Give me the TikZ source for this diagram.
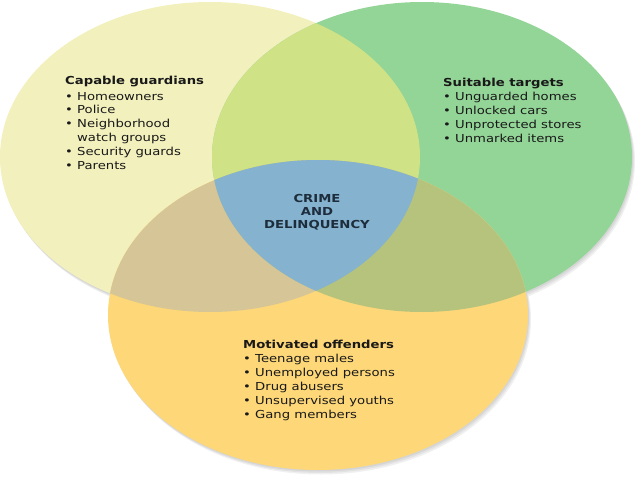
\documentclass[tikz,border=0pt]{standalone}
\usepackage{fontspec}
\setmainfont[FakeStretch=1.2]{DejaVu Sans}
\usepackage{tikz}

\definecolor{guardfill}{RGB}{242,240,189}
\definecolor{targetfill}{RGB}{147,212,151}
\definecolor{offendfill}{RGB}{253,215,120}
\definecolor{gtfill}{RGB}{207,226,133}
\definecolor{gofill}{RGB}{214,197,150}
\definecolor{tofill}{RGB}{182,195,125}
\definecolor{crimefill}{RGB}{132,178,207}
\definecolor{crimetext}{RGB}{30,45,60}

\def\ringG{(210,157) ellipse [x radius=210pt, y radius=155pt]}
\def\ringT{(422,157) ellipse [x radius=210pt, y radius=155pt]}
\def\ringO{(318,315) ellipse [x radius=210pt, y radius=155pt]}

\begin{document}
\begin{tikzpicture}[x=1pt,y=-1pt,
  list/.style={anchor=base west,align=left,inner sep=0pt,text=black!90,
    font=\fontsize{11}{13.8}\selectfont}]
  \useasboundingbox (0,0) rectangle (638,479);
  \foreach \d in {1,2,3}
    \fill[black,opacity=0.06,shift={(\d,1.5*\d)}] \ringG \ringT \ringO;
  \fill[guardfill] \ringG;
  \fill[targetfill] \ringT;
  \fill[offendfill] \ringO;
  \begin{scope}
    \clip \ringG;
    \fill[gtfill] \ringT;
    \fill[gofill] \ringO;
  \end{scope}
  \begin{scope}
    \clip \ringT;
    \fill[tofill] \ringO;
    \clip \ringG;
    \fill[crimefill] \ringO;
  \end{scope}

  \node[list] (guardtxt) at (65,169)
    {\textbf{Capable guardians}\\[2pt]
     • Homeowners\\ • Police\\ • Neighborhood\\
     \hphantom{•} watch groups\\ • Security guards\\ • Parents};
  \node[list] (targettxt) at (443,142)
    {\textbf{Suitable targets}\\
     • Unguarded homes\\ • Unlocked cars\\
     • Unprotected stores\\ • Unmarked items};
  \node[list] (offendtxt) at (243,418)
    {\textbf{Motivated offenders}\\[1pt]
     • Teenage males\\ • Unemployed persons\\ • Drug abusers\\
     • Unsupervised youths\\ • Gang members};
  \node[align=center,inner sep=0pt,text=crimetext,
    font=\bfseries\fontsize{11}{13}\selectfont] (crimetxt) at (317,212)
    {CRIME\\AND\\DELINQUENCY};
\end{tikzpicture}
\end{document}
